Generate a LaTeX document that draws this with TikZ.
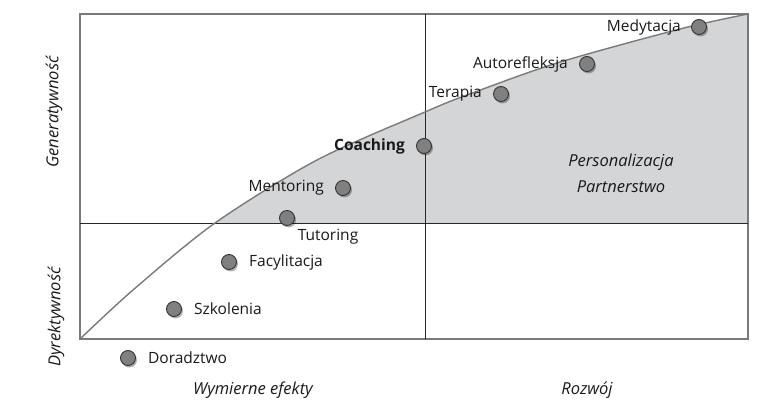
\documentclass[tikz,border=0pt]{standalone}
\usepackage{fontspec}
\setmainfont{Open Sans}
\usetikzlibrary{positioning,shadows}
\definecolor{frameGray}{HTML}{7A7A7A}
\definecolor{areaGray}{HTML}{D4D5D6}
\definecolor{dotGray}{HTML}{808080}
\begin{document}
\begin{tikzpicture}[x=1pt, y=-1pt, dotStyle/.style={circle, draw=black!80, fill=dotGray, line width=0.9pt, minimum size=15pt, inner sep=0pt, drop shadow={shadow xshift=1.5pt, shadow yshift=-2pt, opacity=0.3, fill=black}}, labelStyle/.style={font=\fontsize{15.5}{17}\selectfont, text=black!90, inner sep=1pt}, axisStyle/.style={font=\fontsize{16.5}{18}\selectfont\itshape, text=black!90, inner sep=0pt}]
                    \useasboundingbox (0,0) rectangle (778,411);

                    % shaded area above the curve
                    \begin{scope}
                        \clip (80,14) rectangle (748,223);
                        \fill[areaGray] plot[smooth] coordinates {(80,339) (133,290) (215,223) (317,160) (425,112) (467,95) (557,63) (680,29) (748,14)} -- (748,339) -- cycle;
                    \end{scope}

                    \draw[frameGray, line width=1.4pt] (80,14) rectangle (748,339);
                    \draw[black!85, line width=0.9pt] (425,14) -- (425,339);
                    \draw[black!85, line width=0.9pt] (80,223) -- (748,223);
                    \draw[frameGray, line width=1.4pt] plot[smooth] coordinates {(80,339) (133,290) (215,223) (317,160) (425,112) (467,95) (557,63) (680,29) (748,14)};

                    \node[dotStyle] (medytacja)     at (699, 27) {};
                    \node[dotStyle] (autorefleksja) at (587, 64) {};
                    \node[dotStyle] (terapia)       at (501, 94) {};
                    \node[dotStyle] (coaching)      at (424,146) {};
                    \node[dotStyle] (mentoring)     at (343,188) {};
                    \node[dotStyle] (tutoring)      at (287,218) {};
                    \node[dotStyle] (facylitacja)   at (229,262) {};
                    \node[dotStyle] (szkolenia)     at (174,309) {};
                    \node[dotStyle] (doradztwo)     at (128,358) {};

                    \node[labelStyle, left=9pt of medytacja]         (medytacja_L)     {Medytacja};
                    \node[labelStyle, left=10pt of autorefleksja]    (autorefleksja_L) {Autorefleksja};
                    \node[labelStyle, left=10pt of terapia]          (terapia_L)       {Terapia};
                    \node[labelStyle, left=10pt of coaching, font=\fontsize{15.5}{17}\selectfont\bfseries] (coaching_L) {Coaching};
                    \node[labelStyle, left=10pt of mentoring]        (mentoring_L)     {Mentoring};
                    \node[labelStyle, below right=4pt and 4pt of tutoring] (tutoring_L) {Tutoring};
                    \node[labelStyle, right=11pt of facylitacja]     (facylitacja_L)   {Facylitacja};
                    \node[labelStyle, right=11pt of szkolenia]       (szkolenia_L)     {Szkolenia};
                    \node[labelStyle, right=11pt of doradztwo]       (doradztwo_L)     {Doradztwo};

                    \node[axisStyle] (personalizacja) at (621,162) {Personalizacja};
                    \node[axisStyle] (partnerstwo)    at (621,187) {Partnerstwo};

                    \node[axisStyle, rotate=90] (generatywnosc) at (54,112) {Generatywność};
                    \node[axisStyle, rotate=90] (dyrektywnosc)  at (56,317) {Dyrektywność};
                    \node[axisStyle] (wymierne) at (253,390) {Wymierne efekty};
                    \node[axisStyle] (rozwoj)   at (587,390) {Rozwój};
                \end{tikzpicture}
\end{document}
